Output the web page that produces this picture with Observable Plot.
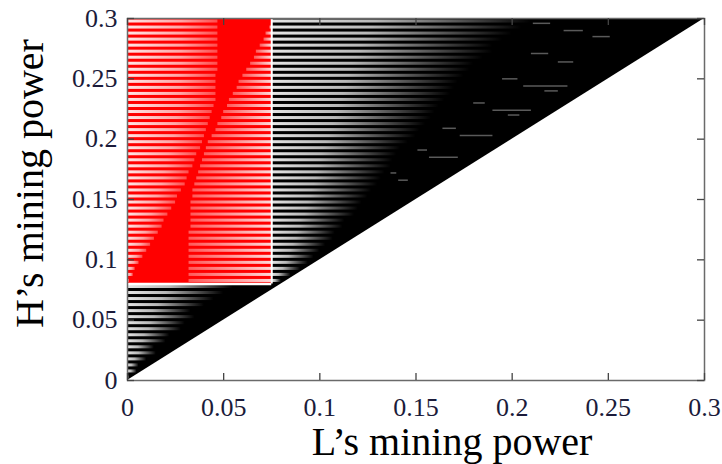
<!DOCTYPE html>
<html><head><meta charset="utf-8">
<script src="https://cdn.jsdelivr.net/npm/d3@7"></script>
<script src="https://cdn.jsdelivr.net/npm/@observablehq/plot@0.6"></script>
<style>body{margin:0;background:#fff}</style>
</head><body><div id="chart"></div>
<script>
// ---- data ----
const xTicks = [0, 0.05, 0.1, 0.15, 0.2, 0.25, 0.3];
const yTicks = [0, 0.05, 0.1, 0.15, 0.2, 0.25, 0.3];
const tickLabels = ["0", "0.05", "0.1", "0.15", "0.2", "0.25", "0.3"];
const diagonalX = [0, 0.3];
const domainMax = 0.3;
const redX = [0, 0.075];
const redY = [0.08, 0.3];

// rows below the red block (y < 0.08) and their light-stripe ends
const lowRows = [0.0025,0.0075,0.0125,0.0175,0.0225,0.0275,0.0325,0.0375,0.0425,0.0475,0.0525,0.0575,0.0625,0.0675,0.0725,0.0775];
const lowEnds = [0.001,0.005,0.006,0.010,0.015,0.014,0.020,0.022,0.028,0.030,0.035,0.033,0.040,0.045,0.050,0.055];

// rows of the red block (y > 0.08)
const highRows = [0.0825,0.0875,0.0925,0.0975,0.1025,0.1075,0.1125,0.1175,0.1225,0.1275,0.1325,0.1375,0.1425,0.1475,0.1525,0.1575,0.1625,0.1675,0.1725,0.1775,0.1825,0.1875,0.1925,0.1975,0.2025,0.2075,0.2125,0.2175,0.2225,0.2275,0.2325,0.2375,0.2425,0.2475,0.2525,0.2575,0.2625,0.2675,0.2725,0.2775,0.2825,0.2875,0.2925,0.2975];
// end of the light stripes in the black area right of the red block
const highEnds = [0.080,0.085,0.090,0.094,0.097,0.100,0.103,0.107,0.108,0.112,0.113,0.118,0.120,0.122,0.125,0.127,0.130,0.132,0.134,0.137,0.138,0.140,0.142,0.146,0.150,0.152,0.155,0.158,0.160,0.162,0.165,0.168,0.170,0.172,0.175,0.178,0.180,0.185,0.190,0.190,0.195,0.200,0.205,0.210];
// left and right edges of the solid red band
const solidLeft = [0.001,0.003,0.004,0.006,0.008,0.010,0.012,0.014,0.016,0.018,0.019,0.021,0.023,0.025,0.026,0.028,0.030,0.031,0.032,0.034,0.035,0.036,0.038,0.039,0.040,0.041,0.042,0.043,0.044,0.045,0.046,0.046,0.046,0.046,0.046,0.047,0.047,0.047,0.047,0.047,0.047,0.047,0.047,0.047];
const solidRight = [0.032,0.032,0.032,0.032,0.032,0.032,0.032,0.032,0.032,0.033,0.033,0.033,0.033,0.033,0.034,0.034,0.035,0.036,0.037,0.038,0.039,0.040,0.041,0.042,0.044,0.046,0.047,0.049,0.050,0.052,0.053,0.055,0.057,0.058,0.060,0.062,0.064,0.066,0.067,0.069,0.071,0.072,0.074,0.075];

// scattered grey dashes in the black area
const noiseY  = [0.296,0.290,0.285,0.271,0.264,0.250,0.244,0.240,0.230,0.224,0.220,0.203,0.209,0.191,0.185,0.172,0.166];
const noiseX1 = [0.211,0.227,0.242,0.210,0.224,0.195,0.206,0.217,0.180,0.190,0.198,0.173,0.164,0.151,0.157,0.137,0.141];
const noiseX2 = [0.220,0.237,0.251,0.219,0.232,0.203,0.229,0.224,0.186,0.210,0.204,0.190,0.171,0.156,0.172,0.140,0.146];

// ---- build tables ----
const half = 0.00125;
const stripe = (y, x1, x2) => ({y1: y - half, y2: y + half, x1, x2});
const blackStripes = [
  ...lowRows.map((y, i) => stripe(y, 0, lowEnds[i])),
  ...highRows.map((y, i) => stripe(y, redX[1], highEnds[i]))
];
const redLeft = highRows.map((y, i) => stripe(y, redX[0], solidLeft[i]));
const redRight = highRows.map((y, i) => stripe(y, solidRight[i], redX[1]));
const noise = noiseY.map((y, i) => ({y, x1: noiseX1[i], x2: noiseX2[i]}));
const labelOf = new Map(xTicks.map((t, i) => [t, tickLabels[i]]));

const W = 722, H = 464, mL = 127, mR = 18, mT = 18, mB = 84;
const pw = W - mL - mR, ph = H - mT - mB;
const tickLen = 7;
const labelColor = "#1b1b3a";

const svg = Plot.plot({
  width: W, height: H,
  marginLeft: mL, marginRight: mR, marginTop: mT, marginBottom: mB,
  style: {fontFamily: "'Liberation Serif', 'Times New Roman', serif", background: "white"},
  x: {domain: [0, domainMax]},
  y: {domain: [0, domainMax]},
  marks: [
    Plot.areaY(diagonalX, {x: d => d, y1: d => d, y2: domainMax, fill: "black"}),
    Plot.rect([{x1: redX[0], x2: redX[1], y1: redY[0], y2: redY[1]}], {x1: "x1", x2: "x2", y1: "y1", y2: "y2", fill: "#ff0000"}),
    Plot.rect(blackStripes, {x1: "x1", x2: "x2", y1: "y1", y2: "y2", fill: "url(#fadeGray)"}),
    Plot.rect(redLeft, {x1: "x1", x2: "x2", y1: "y1", y2: "y2", fill: "url(#fadeRedL)"}),
    Plot.rect(redRight, {x1: "x1", x2: "x2", y1: "y1", y2: "y2", fill: "url(#fadeRedR)"}),
    Plot.ruleY(noise, {y: "y", x1: "x1", x2: "x2", stroke: "#5a5a5a", strokeWidth: 1.5}),
    Plot.ruleX([redX[1]], {y1: redY[0], y2: redY[1], stroke: "white", strokeWidth: 2}),
    Plot.ruleY([redY[0]], {x1: redX[0], x2: redX[1], stroke: "white", strokeWidth: 2.5}),
    Plot.frame({stroke: "#6a6a6a", strokeWidth: 1.5}),
    Plot.tickX(xTicks, {x: d => d, insetTop: ph - tickLen, stroke: "#444", strokeWidth: 1.3}),
    Plot.tickX(xTicks, {x: d => d, insetBottom: ph - tickLen, stroke: "#444", strokeWidth: 1.3}),
    Plot.tickY(yTicks, {y: d => d, insetRight: pw - tickLen, stroke: "#444", strokeWidth: 1.3}),
    Plot.tickY(yTicks, {y: d => d, insetLeft: pw - tickLen, stroke: "#444", strokeWidth: 1.3}),
    Plot.axisX(xTicks, {tickSize: 0, tickPadding: 17, fontSize: 26, color: labelColor, tickFormat: d => labelOf.get(d), label: null}),
    Plot.axisY(yTicks, {tickSize: 0, tickPadding: 10, fontSize: 26, color: labelColor, tickFormat: d => labelOf.get(d), label: null}),
    Plot.text(["L’s mining power"], {frameAnchor: "bottom", textAnchor: "middle", lineAnchor: "middle", dx: 36, dy: 62, fontSize: 40, fill: "black"}),
    Plot.text(["H’s mining power"], {frameAnchor: "left", textAnchor: "middle", lineAnchor: "middle", rotate: -90, dx: -97, dy: -16, fontSize: 40, fill: "black"})
  ]
});

const svgEl = svg.tagName.toLowerCase() === "svg" ? svg : svg.querySelector("svg");
const defs = d3.select(svgEl).insert("defs", ":first-child");
function grad(id, stops) {
  const g = defs.append("linearGradient").attr("id", id).attr("x1", 0).attr("x2", 1).attr("y1", 0).attr("y2", 0);
  stops.forEach(([o, op]) => g.append("stop").attr("offset", o).attr("stop-color", "white").attr("stop-opacity", op));
}
grad("fadeGray", [[0, 0.9], [0.4, 0.72], [0.75, 0.3], [1, 0]]);
grad("fadeRedL", [[0, 0.9], [0.6, 0.65], [1, 0.3]]);
grad("fadeRedR", [[0, 0.35], [1, 0.85]]);

document.getElementById("chart").appendChild(svg);
</script>
</body></html>
